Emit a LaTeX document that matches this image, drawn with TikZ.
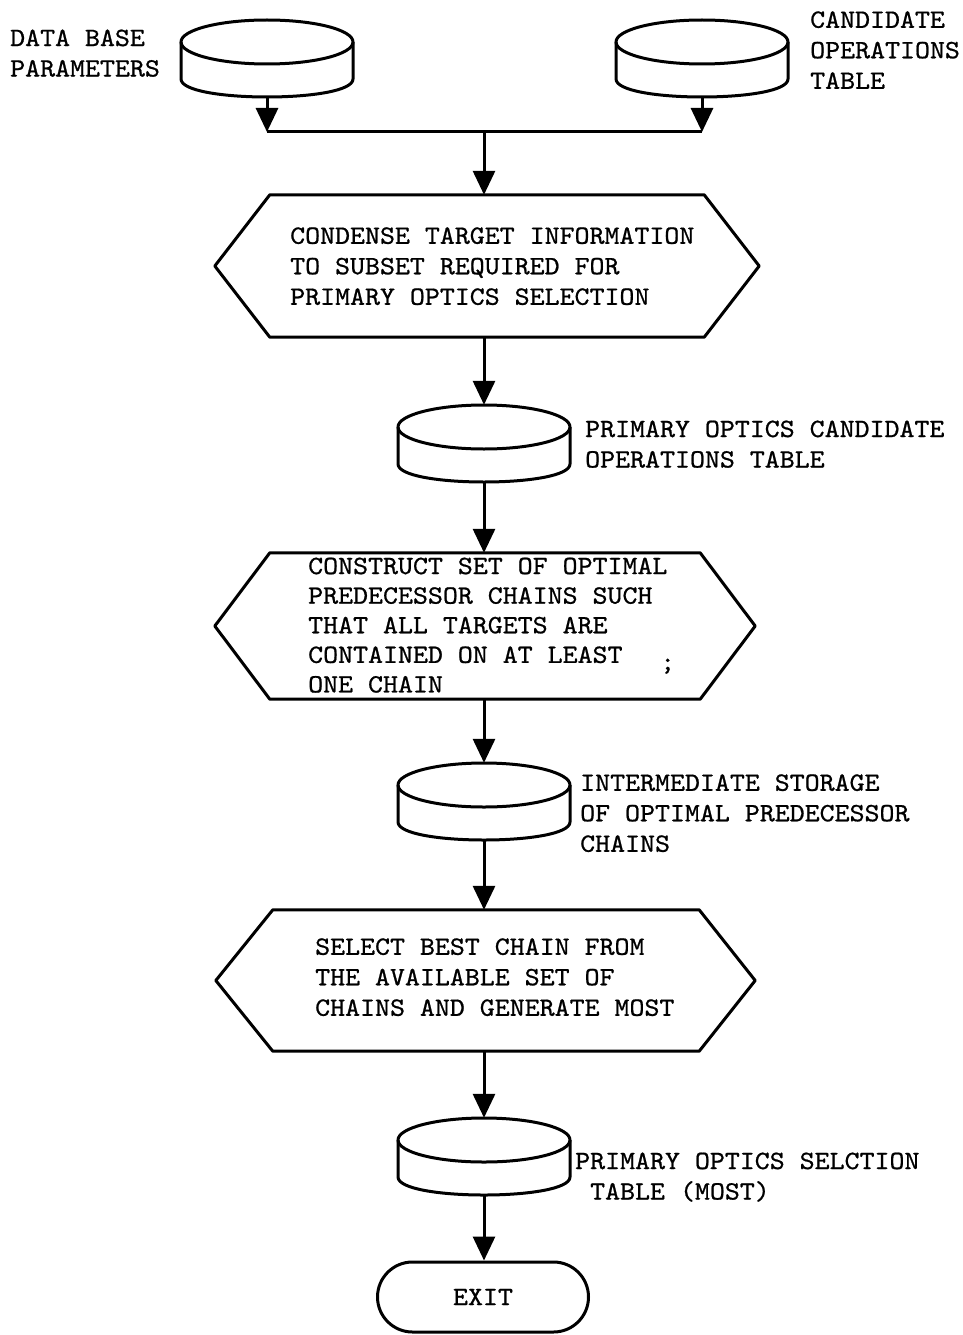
\documentclass[tikz,border=0pt]{standalone}
\usepackage{fontspec}
\newfontfamily\tw{lmmono10-regular}[Extension=.otf,FakeStretch=1.08,FakeBold=0.8]
\usetikzlibrary{arrows.meta,calc}
\tikzset{
  ln/.style={line width=3pt, line join=round},
  arr/.style={ln, -{Triangle[length=24pt,width=22pt]}},
  core/.style={inner sep=0pt, draw=none},
  lbl/.style={inner sep=0pt, anchor=west, align=left,
    font=\tw\fontsize{26.4}{30.5}\selectfont,
    execute at begin node={\rule{0pt}{0.911em}},
    execute at end node={\rule[-0.3em]{0pt}{0.3em}}},
}
\newcommand{\dbdisk}[3]{%
  \node[core, minimum width=172pt, minimum height=77pt] (#1) at (#2,#3+38.5) {};
  \draw[ln] (#2,#3+22) ellipse [x radius=86pt, y radius=22pt];
  \draw[ln] (#2-86,#3+22) -- (#2-86,#3+59) .. controls (#2-86,#3+83) and (#2+86,#3+83) .. (#2+86,#3+59) -- (#2+86,#3+22);
}
\begin{document}
\begin{tikzpicture}[x=1pt,y=-1pt]
\fill[white] (0,0) rectangle (963,1335);
\useasboundingbox (0,0) rectangle (963,1335);

% storage disks
\dbdisk{c1}{267}{20}
\dbdisk{c2}{702}{20}
\dbdisk{c3}{484}{405}
\dbdisk{c4}{484}{763}
\dbdisk{c5}{484}{1118}

% hexagonal process boxes
\node[core, minimum width=434pt, minimum height=142pt] (h1) at (487,266) {};
\draw[ln] (h1.north west) -- (h1.north east) -- ([xshift=55pt]h1.east) -- (h1.south east) -- (h1.south west) -- ([xshift=-55pt]h1.west) -- cycle;

\node[core, minimum width=430pt, minimum height=146pt] (h2) at (485,626) {};
\draw[ln] (h2.north west) -- (h2.north east) -- ([xshift=55pt]h2.east) -- (h2.south east) -- (h2.south west) -- ([xshift=-55pt]h2.west) -- cycle;

\node[core, minimum width=426pt, minimum height=141pt] (h3) at (486,980.5) {};
\draw[ln] (h3.north west) -- (h3.north east) -- ([xshift=56pt]h3.east) -- (h3.south east) -- (h3.south west) -- ([xshift=-57pt]h3.west) -- cycle;

% exit terminal
\node[ln, draw, rounded corners=35pt, minimum width=211pt, minimum height=70pt, inner sep=0pt,
  font=\tw\fontsize{26.4}{30.5}\selectfont] (ex) at (483,1297) {EXIT};

% junction
\coordinate (j1) at (267,132);
\coordinate (j2) at (702,132);
\coordinate (jm) at (484,132);

% connectors
\draw[arr] (c1.south) -- (j1);
\draw[arr] (c2.south) -- (j2);
\draw[ln] (j1) -- (j2);
\draw[arr] (jm) -- (jm |- h1.north);
\draw[arr] (jm |- h1.south) -- (c3.north);
\draw[arr] (c3.south) -- (c3.south |- h2.north);
\draw[arr] (c3.south |- h2.south) -- (c4.north);
\draw[arr] (c4.south) -- (c4.south |- h3.north);
\draw[arr] (c4.south |- h3.south) -- (c5.north);
\draw[arr] (c5.south) -- (c5.south |- ex.north);

% texts
\node[lbl] (t1) at (10,57) {DATA BASE\\PARAMETERS};
\node[lbl] (t2) at (810,54) {CANDIDATE\\OPERATIONS\\TABLE};
\node[lbl] (x1) at (290,270) {CONDENSE TARGET INFORMATION\\TO SUBSET REQUIRED FOR\\PRIMARY OPTICS SELECTION};
\node[lbl] (t3) at (585,448) {PRIMARY OPTICS CANDIDATE\\OPERATIONS TABLE};
\node[lbl, font=\tw\fontsize{26.4}{29.6}\selectfont] (x2) at (308,629) {CONSTRUCT SET OF OPTIMAL\\PREDECESSOR CHAINS SUCH\\THAT ALL TARGETS ARE\\CONTAINED ON AT LEAST\\ONE CHAIN};
\node[lbl] (sc) at (660,662) {;};
\node[lbl] (t4) at (580,817) {INTERMEDIATE STORAGE\\OF OPTIMAL PREDECESSOR\\CHAINS};
\node[lbl] (x3) at (315,981) {SELECT BEST CHAIN FROM\\THE AVAILABLE SET OF\\CHAINS AND GENERATE MOST};
\node[lbl] (t5) at (575,1180) {PRIMARY OPTICS SELCTION\\\phantom{X}TABLE (MOST)};
\end{tikzpicture}
\end{document}
